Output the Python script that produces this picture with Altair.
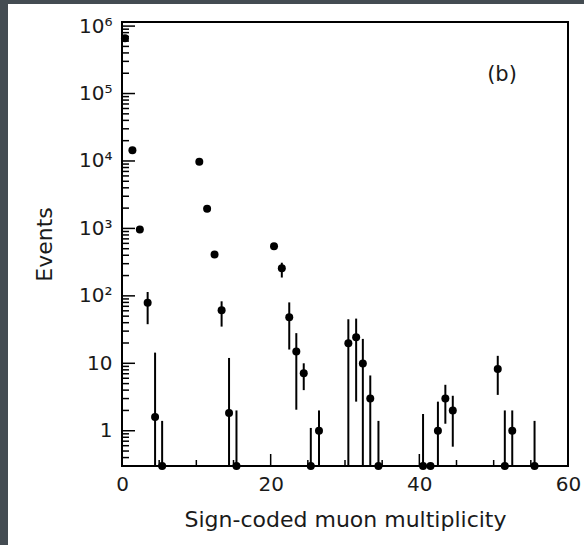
import altair as alt
import pandas as pd

# ---- data ----
bin_x = [0.4, 1.4, 2.4, 3.45, 4.45, 5.4,
         10.4, 11.45, 12.45, 13.4, 14.4, 15.4,
         20.45, 21.5, 22.5, 23.45, 24.45, 25.4, 26.5,
         30.45, 31.5, 32.4, 33.4, 34.5,
         40.5, 41.5, 42.5, 43.5, 44.5,
         50.55, 51.5, 52.5, 55.5]
events = [660000, 14400, 960, 79, 1.6, 0,
          9700, 1960, 410, 61, 1.83, 0,
          545, 256, 48, 15, 7.1, 0, 1.0,
          19.8, 24.4, 9.9, 3.0, 0,
          0, 0, 1.0, 3.0, 2.0,
          8.2, 0, 1.0, 0]
err_lo = [660000, 14400, 960, 38, 0, 0,
          9700, 1960, 410, 35, 0, 0,
          545, 187, 16, 2.05, 4.0, 0, 0,
          0, 2.7, 0, 0, 0,
          0, 0, 0, 1.27, 0.58,
          3.4, 0, 0, 0]
err_hi = [660000, 14400, 960, 114, 14.4, 1.4,
          9700, 1960, 410, 83, 12, 2.0,
          545, 310, 80, 28, 10, 1.1, 2.0,
          45, 46, 23, 6.6, 1.4,
          1.77, 0, 2.7, 4.8, 3.3,
          12.9, 2.0, 2.0, 1.4]

x_label_values = [0, 20, 40, 60]
x_major_ticks = [0, 20, 40, 60]
x_minor_ticks = [5, 10, 15, 25, 30, 35, 45, 50, 55]
y_major_ticks = [1, 10, 100, 1000, 10000, 100000, 1000000]
y_minor_ticks = [0.3, 0.4, 0.5, 0.6, 0.7, 0.8, 0.9] + [
    m * 10 ** k for k in range(0, 6) for m in range(2, 10)]

YMIN, YMAX = 0.3, 1.15e6
W, H = 446, 444
FONT = "DejaVu Sans"
INK = "#1a1a1a"


def floor(v):
    return YMIN if v <= 0 else v


df = pd.DataFrame({
    "x": bin_x,
    "y": [floor(v) for v in events],
    "lo": [floor(v) for v in err_lo],
    "hi": [floor(v) for v in err_hi],
})

xs = alt.Scale(domain=[0, 60], nice=False, zero=False)
ys = alt.Scale(type="log", domain=[YMIN, YMAX], nice=False)

sup = "['', '', '\u00b2', '\u00b3', '\u2074', '\u2075', '\u2076']"
ylabel = ("datum.value < 5 ? '1' : datum.value < 50 ? '10' : '10' + "
          + sup + "[round(log(datum.value) / LN10)]")

XA = alt.Axis(values=x_label_values, title="Sign-coded muon multiplicity",
              labelPadding=8, titlePadding=15, labelFlush=False)
YA = alt.Axis(values=y_major_ticks, labelExpr=ylabel, title="Events",
              labelPadding=10, titlePadding=22)

base = alt.Chart(df)

points = base.mark_circle(color="black", opacity=1, size=64).encode(
    x=alt.X("x:Q", scale=xs, axis=XA),
    y=alt.Y("y:Q", scale=ys, axis=YA),
)

bars = base.mark_rule(color="black", strokeWidth=2, clip=True).encode(
    x=alt.X("x:Q", scale=xs, axis=XA),
    y=alt.Y("lo:Q", scale=ys, axis=YA),
    y2="hi:Q",
)

ytick_major = alt.Chart(pd.DataFrame({"v": y_major_ticks})).mark_rule(
    color="black", strokeWidth=1.5).encode(
    y=alt.Y("v:Q", scale=ys, axis=YA), x=alt.value(0), x2=alt.value(13))
ytick_minor = alt.Chart(pd.DataFrame({"v": y_minor_ticks})).mark_rule(
    color="black", strokeWidth=1.5).encode(
    y=alt.Y("v:Q", scale=ys, axis=YA), x=alt.value(0), x2=alt.value(7))
xtick_major = alt.Chart(pd.DataFrame({"v": x_major_ticks})).mark_rule(
    color="black", strokeWidth=1.5).encode(
    x=alt.X("v:Q", scale=xs, axis=XA), y=alt.value(H), y2=alt.value(H - 12))
xtick_minor = alt.Chart(pd.DataFrame({"v": x_minor_ticks})).mark_rule(
    color="black", strokeWidth=1.5).encode(
    x=alt.X("v:Q", scale=xs, axis=XA), y=alt.value(H), y2=alt.value(H - 6))

label = alt.Chart(pd.DataFrame({"t": ["(b)"]})).mark_text(
    font=FONT, fontSize=21, color=INK, align="center", baseline="middle").encode(
    text="t:N", x=alt.value(380), y=alt.value(53))

# dark border strips of the screenshot frame
strip_left = alt.Chart(pd.DataFrame({"k": ["left"]})).mark_rect(color="#444c52").encode(
    x=alt.value(-122), x2=alt.value(-114), y=alt.value(-22), y2=alt.value(545 - 22))
strip_top = alt.Chart(pd.DataFrame({"k": ["top"]})).mark_rect(color="#444c52").encode(
    x=alt.value(-122), x2=alt.value(584 - 122), y=alt.value(-22), y2=alt.value(-18))

chart = alt.layer(
    points, bars, ytick_major, ytick_minor, xtick_major, xtick_minor, label,
    strip_left, strip_top,
).properties(
    width=W, height=H,
    autosize=alt.AutoSizeParams(type="none"),
    padding={"left": 122, "top": 22, "right": 584 - 122 - W, "bottom": 545 - 22 - H},
    background="white",
).configure_view(
    stroke="black", strokeWidth=2,
).configure_axis(
    domain=False, ticks=False, grid=False,
    labelFont=FONT, labelFontSize=20, labelColor=INK,
    titleFont=FONT, titleFontSize=22, titleFontWeight="normal", titleColor=INK,
)

chart.save("out.html", embed_options={"renderer": "svg", "actions": False})
